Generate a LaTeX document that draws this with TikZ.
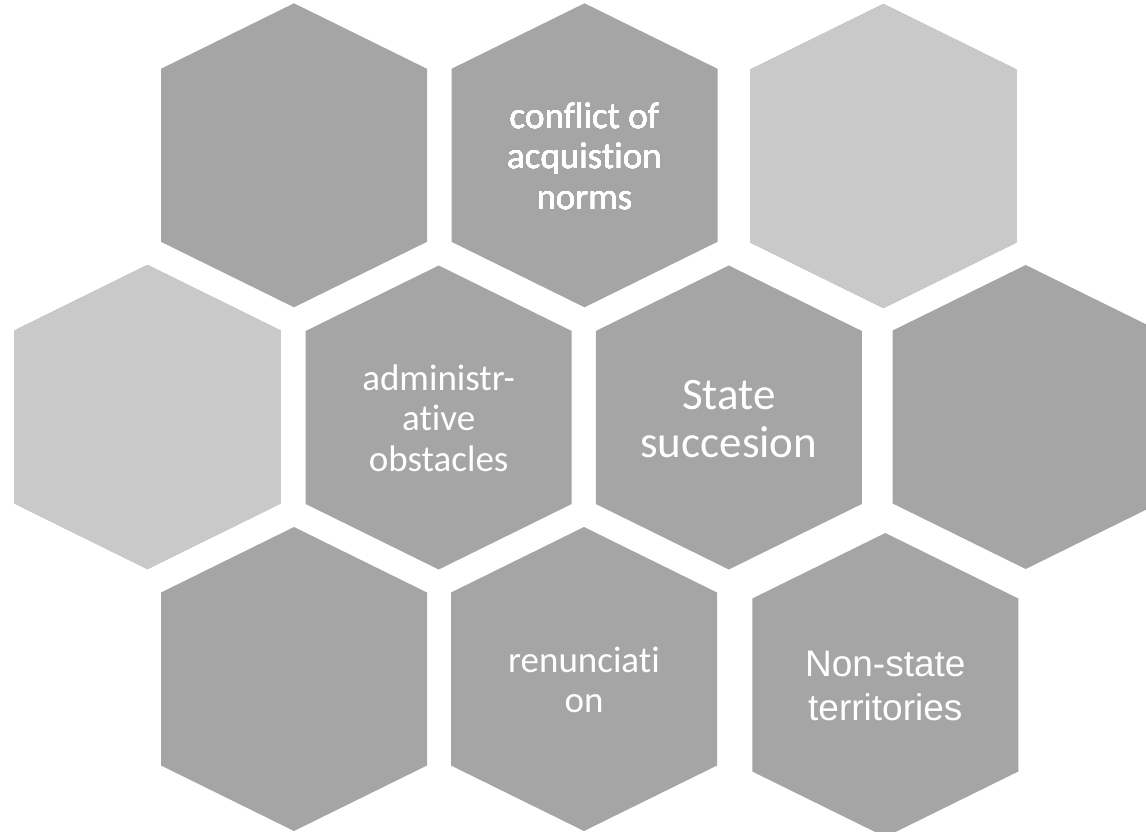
\documentclass[tikz,border=0pt]{standalone}
\usepackage{fontspec}
\setmainfont{Carlito}[Ligatures=CommonOff]
\newfontfamily\arialfont{Liberation Sans}
\definecolor{hexgray}{HTML}{A5A5A5}
\definecolor{hexlight}{HTML}{C9C9C9}
\tikzset{
  hexlabel/.style={text=white, align=center, inner sep=0pt, font=\fontsize{37}{40.6}\selectfont},
  biglabel/.style={hexlabel, font=\fontsize{45}{48}\selectfont},
  arlabel/.style={hexlabel, font=\arialfont\fontsize{37}{44}\selectfont},
}
% one hexagon cell, pointy top, centred at (#1,#2)
\newcommand{\hexcell}[3]{%
  \fill[#3] (#1,#2) ++(0,-152) -- ++(133,65.5) -- ++(0,173) -- ++(-133,65.5)
    -- ++(-133,-65.5) -- ++(0,-173) -- cycle;}
\begin{document}
\begin{tikzpicture}[x=1pt, y=-1pt]
  \useasboundingbox (0,0) rectangle (1146,832);
  \foreach \cx/\cy in {294/155.3, 584.5/155.3, 438.7/417.5, 728.8/417.5,
                       1025.7/417, 294/679, 584/679, 885.3/685}
    \hexcell{\cx}{\cy}{hexgray}
  \foreach \cx/\cy in {883.4/156, 147.5/417}
    \hexcell{\cx}{\cy}{hexlight}
  \node[hexlabel] (conflict) at (584.5,156) {conflict of\\acquistion\\norms};
  \node[hexlabel] (admin) at (438.7,418) {administr-\\ative\\obstacles};
  \node[biglabel] (state) at (728.8,419) {State\\succesion};
  \node[hexlabel] (renounce) at (584,680) {renunciati\\on};
  \node[arlabel] (nonstate) at (885.3,686) {Non-state\\territories};
\end{tikzpicture}
\end{document}
